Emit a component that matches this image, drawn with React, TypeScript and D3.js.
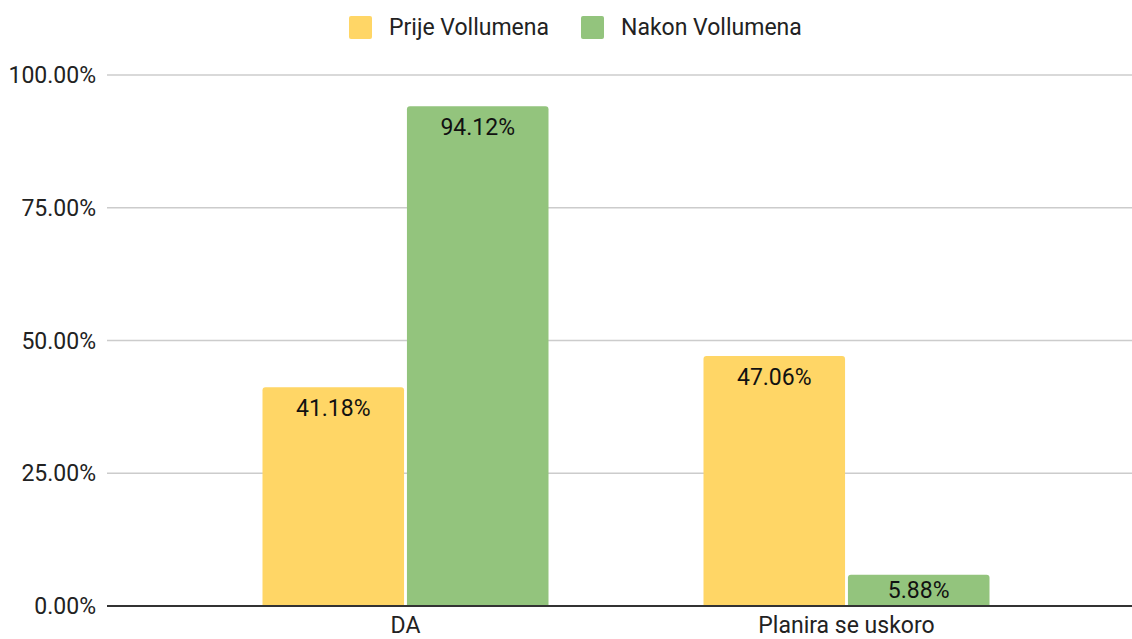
import { useEffect, useRef } from "react";
import * as d3 from "d3";

const categories = ["DA", "Planira se uskoro"];
const seriesNames = ["Prije Vollumena", "Nakon Vollumena"];
const prijeValues = [41.18, 47.06];
const nakonValues = [94.12, 5.88];
const yTicks = [0, 25, 50, 75, 100];
const colors = ["#ffd666", "#93c47d"];

const W = 1132;
const H = 639;
const FONT = "Roboto, 'Noto Sans', sans-serif";
const FS = 23;

export default function App() {
  const ref = useRef<SVGSVGElement>(null);

  useEffect(() => {
    const svg = d3.select(ref.current);
    svg.selectAll("*").remove();

    const gridLeft = 107;
    const gridRight = 1132;
    const y = d3.scaleLinear().domain([0, 100]).range([606, 75]);
    const x0 = d3.scaleBand().domain(categories).range([185, 1067]).paddingInner(0).paddingOuter(0);
    const x1 = d3.scaleBand().domain(seriesNames).range([0, 286]).paddingInner(0.02);
    const groupOffset = (x0.bandwidth() - 286) / 2;

    // gridlines
    svg.append("g")
      .selectAll("line")
      .data(yTicks.filter(t => t > 0))
      .join("line")
      .attr("x1", gridLeft)
      .attr("x2", gridRight)
      .attr("y1", d => y(d))
      .attr("y2", d => y(d))
      .attr("stroke", "#cccccc")
      .attr("stroke-width", 1.5);

    // y labels
    svg.append("g")
      .selectAll("text")
      .data(yTicks)
      .join("text")
      .attr("x", 96)
      .attr("y", d => y(d) + 8)
      .attr("text-anchor", "end")
      .attr("font-family", FONT)
      .attr("font-size", FS)
      .attr("fill", "#222")
      .text(d => d.toFixed(2) + "%");

    const rows = categories.map((c, i) => [
      { cat: c, key: seriesNames[0], v: prijeValues[i], color: colors[0] },
      { cat: c, key: seriesNames[1], v: nakonValues[i], color: colors[1] },
    ]).flat();

    const bx = (d: any) => (x0(d.cat) as number) + groupOffset + (x1(d.key) as number);

    // bars, rounded tops
    svg.append("g")
      .selectAll("path")
      .data(rows)
      .join("path")
      .attr("fill", d => d.color)
      .attr("d", d => {
        const xl = bx(d);
        const w = x1.bandwidth();
        const top = y(d.v);
        const bot = y(0);
        const r = 3;
        return `M${xl},${bot}V${top + r}Q${xl},${top} ${xl + r},${top}H${xl + w - r}Q${xl + w},${top} ${xl + w},${top + r}V${bot}Z`;
      });

    // bar labels
    svg.append("g")
      .selectAll("text")
      .data(rows)
      .join("text")
      .attr("x", d => bx(d) + x1.bandwidth() / 2)
      .attr("y", d => {
        const top = y(d.v);
        const mid = (top + y(0)) / 2;
        return Math.min(top + 29, mid + 8);
      })
      .attr("text-anchor", "middle")
      .attr("font-family", FONT)
      .attr("font-size", FS)
      .attr("fill", "#111")
      .text(d => d.v.toFixed(2) + "%");

    // baseline
    svg.append("line")
      .attr("x1", gridLeft)
      .attr("x2", gridRight)
      .attr("y1", y(0))
      .attr("y2", y(0))
      .attr("stroke", "#333333")
      .attr("stroke-width", 2);

    // category labels
    svg.append("g")
      .selectAll("text")
      .data(categories)
      .join("text")
      .attr("x", d => (x0(d) as number) + x0.bandwidth() / 2)
      .attr("y", 633)
      .attr("text-anchor", "middle")
      .attr("font-family", FONT)
      .attr("font-size", FS)
      .attr("fill", "#222")
      .text(d => d);

    // legend
    const legendX = [349, 581];
    const lg = svg.append("g");
    seriesNames.forEach((s, i) => {
      lg.append("rect")
        .attr("x", legendX[i])
        .attr("y", 16)
        .attr("width", 23)
        .attr("height", 23)
        .attr("rx", 2)
        .attr("fill", colors[i]);
      lg.append("text")
        .attr("x", legendX[i] + 40)
        .attr("y", 35)
        .attr("font-family", FONT)
        .attr("font-size", FS)
        .attr("fill", "#222")
        .text(s);
    });
  }, []);

  return (
    <svg
      ref={ref}
      width={W}
      height={H}
      style={{ position: "absolute", left: 0, top: 0, background: "#fff" }}
    />
  );
}
